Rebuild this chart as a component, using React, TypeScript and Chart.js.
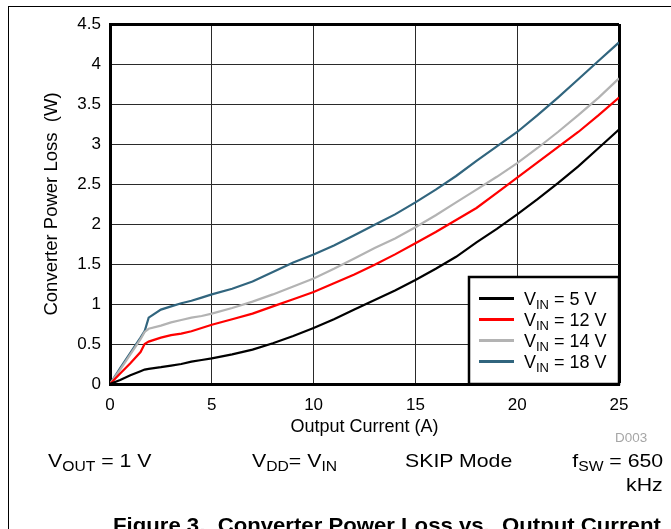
import React, { useEffect, useRef } from 'react';
import { Chart, registerables } from 'chart.js';

Chart.register(...registerables);

// ---------- data ----------
const currentA = [0, 0.5, 1, 1.5, 1.7, 1.9, 2.5, 3, 3.5, 4, 4.5, 5, 6, 7, 8, 9, 10, 11, 12, 13, 14, 15, 16, 17, 18, 19, 20, 21, 22, 23, 24, 25];
const lossVin5 = [0, 0.05, 0.11, 0.16, 0.18, 0.19, 0.21, 0.23, 0.25, 0.28, 0.3, 0.32, 0.37, 0.43, 0.51, 0.6, 0.7, 0.81, 0.93, 1.05, 1.17, 1.3, 1.44, 1.59, 1.77, 1.94, 2.12, 2.31, 2.51, 2.72, 2.95, 3.18];
const lossVin12 = [0, 0.13, 0.26, 0.4, 0.5, 0.53, 0.58, 0.61, 0.63, 0.66, 0.7, 0.74, 0.81, 0.88, 0.97, 1.06, 1.15, 1.26, 1.37, 1.49, 1.62, 1.76, 1.9, 2.05, 2.2, 2.39, 2.58, 2.77, 2.96, 3.15, 3.36, 3.58];
const lossVin14 = [0, 0.18, 0.37, 0.56, 0.65, 0.69, 0.73, 0.77, 0.8, 0.83, 0.85, 0.88, 0.95, 1.03, 1.12, 1.22, 1.32, 1.44, 1.57, 1.7, 1.82, 1.96, 2.11, 2.27, 2.43, 2.59, 2.76, 2.95, 3.15, 3.36, 3.58, 3.82];
const lossVin18 = [0, 0.2, 0.39, 0.58, 0.66, 0.83, 0.93, 0.97, 1.01, 1.04, 1.08, 1.12, 1.19, 1.28, 1.4, 1.52, 1.62, 1.73, 1.86, 1.99, 2.12, 2.27, 2.43, 2.6, 2.79, 2.97, 3.15, 3.36, 3.58, 3.81, 4.04, 4.27];
const vinLevels = [5, 12, 14, 18];
const seriesValues = [lossVin5, lossVin12, lossVin14, lossVin18];
const seriesColors = ['#000000', '#ff0000', '#b3b3b3', '#31657e'];
const xTickValues = [0, 5, 10, 15, 20, 25];
const yTickValues = [0, 0.5, 1, 1.5, 2, 2.5, 3, 3.5, 4, 4.5];

const FONT = '"Liberation Sans", Arial, Helvetica, sans-serif';

const legendPlugin = {
  id: 'vinLegend',
  afterDatasetsDraw(chart: any) {
    const { ctx, chartArea } = chart;
    const w = 150;
    const h = 107;
    const x0 = chartArea.right - w;
    const y0 = chartArea.bottom - h;
    ctx.save();
    ctx.fillStyle = '#ffffff';
    ctx.fillRect(x0, y0, w, h);
    ctx.strokeStyle = '#000000';
    ctx.lineWidth = 2.5;
    ctx.strokeRect(x0, y0, w, h);
    chart.data.datasets.forEach((ds: any, i: number) => {
      const base = y0 + 28 + i * 21;
      ctx.strokeStyle = ds.borderColor;
      ctx.lineWidth = 3;
      ctx.beginPath();
      ctx.moveTo(x0 + 10, base - 6.5);
      ctx.lineTo(x0 + 45, base - 6.5);
      ctx.stroke();
      ctx.fillStyle = '#000000';
      ctx.textBaseline = 'alphabetic';
      ctx.textAlign = 'left';
      let x = x0 + 55;
      ctx.font = `18px ${FONT}`;
      ctx.fillText('V', x, base);
      x += ctx.measureText('V').width;
      ctx.font = `13px ${FONT}`;
      ctx.fillText('IN', x, base + 4);
      x += ctx.measureText('IN').width;
      ctx.font = `18px ${FONT}`;
      ctx.fillText(` = ${vinLevels[i]} V`, x, base);
    });
    ctx.restore();
  },
};

function Txt(props: { x?: number; right?: number; baseline: number; size: number; bold?: boolean; color?: string; children: any }) {
  const { x, right, baseline, size, bold, color, children } = props;
  const top = baseline - 0.8465 * size;
  const style: any = {
    position: 'absolute',
    top,
    fontFamily: FONT,
    fontSize: size,
    lineHeight: `${size}px`,
    fontWeight: bold ? 'bold' : 'normal',
    color: color || '#000',
    whiteSpace: 'pre',
    transform: 'scaleX(1.12)',
    transformOrigin: right !== undefined ? 'right center' : 'left center',
  };
  if (right !== undefined) style.right = right;
  else style.left = x;
  return <div style={style}>{children}</div>;
}

const Sub = (p: { children: any }) => (
  <span style={{ fontSize: 14, position: 'relative', top: 4 }}>{p.children}</span>
);

export default function App() {
  const canvasRef = useRef<HTMLCanvasElement | null>(null);

  useEffect(() => {
    const canvas = canvasRef.current;
    if (!canvas) return;
    const datasets = seriesValues.map((vals, i) => ({
      label: `VIN = ${vinLevels[i]} V`,
      data: currentA.map((c, j) => ({ x: c, y: vals[j] })),
      borderColor: seriesColors[i],
      backgroundColor: seriesColors[i],
      borderWidth: 2.2,
      pointRadius: 0,
      tension: 0,
      fill: false,
    }));
    const gridColor = (ctx: any, edge: number) => (ctx.tick && ctx.tick.value === edge ? '#000000' : '#2a2a2a');
    const gridWidth = (ctx: any, edge: number) => (ctx.tick && ctx.tick.value === edge ? 3 : 1);
    const chart = new Chart(canvas, {
      type: 'line',
      data: { datasets },
      options: {
        animation: false,
        responsive: false,
        devicePixelRatio: 1,
        layout: { padding: { left: 41.2, right: 52, top: 24, bottom: 91.2 } },
        plugins: { legend: { display: false }, tooltip: { enabled: false } },
        scales: {
          x: {
            type: 'linear',
            min: 0,
            max: 25,
            afterBuildTicks: (s: any) => { s.ticks = xTickValues.map((v) => ({ value: v })); },
            afterFit: (s: any) => { s.height = 53.8; },
            ticks: { color: '#000', padding: 11, font: { family: FONT, size: 17 }, callback: (v: any) => String(v) },
            grid: {
              drawTicks: false,
              color: (c: any) => gridColor(c, 25),
              lineWidth: (c: any) => gridWidth(c, 25),
            },
            border: { display: true, color: '#000', width: 3 },
            title: { display: true, text: 'Output Current (A)', color: '#000', padding: 0, font: { family: FONT, size: 18 } },
          },
          y: {
            type: 'linear',
            min: 0,
            max: 4.5,
            afterBuildTicks: (s: any) => { s.ticks = yTickValues.map((v) => ({ value: v })); },
            afterFit: (s: any) => { s.width = 68.8; },
            ticks: { color: '#000', padding: 9, font: { family: FONT, size: 17 }, callback: (v: any) => String(v) },
            grid: {
              drawTicks: false,
              color: (c: any) => gridColor(c, 4.5),
              lineWidth: (c: any) => gridWidth(c, 4.5),
            },
            border: { display: true, color: '#000', width: 3 },
            title: { display: true, text: 'Converter Power Loss  (W)', color: '#000', padding: 0, font: { family: FONT, size: 18.5 } },
          },
        },
      },
      plugins: [legendPlugin],
    } as any);
    return () => chart.destroy();
  }, []);

  return (
    <div style={{ position: 'fixed', left: 0, top: 0, width: 671, height: 529, overflow: 'hidden', background: '#fff' }}>
      <canvas ref={canvasRef} width={671} height={529} style={{ position: 'absolute', left: 0, top: 0 }} />
      <div style={{ position: 'absolute', left: 8, top: 6, width: 663, height: 1, background: '#000' }} />
      <div style={{ position: 'absolute', left: 8, top: 6, width: 1, height: 523, background: '#000' }} />
      <Txt x={615} baseline={441.7} size={12} color="#a6a6a6">D003</Txt>
      <Txt x={48} baseline={466.7} size={19}>V<Sub>OUT</Sub> = 1 V</Txt>
      <Txt x={252} baseline={466.7} size={19}>V<Sub>DD</Sub>= V<Sub>IN</Sub></Txt>
      <Txt x={405} baseline={466.7} size={19}>SKIP Mode</Txt>
      <Txt right={8} baseline={466.7} size={19}>f<Sub>SW</Sub> = 650</Txt>
      <Txt right={8} baseline={490.7} size={19}>kHz</Txt>
      <Txt x={113} baseline={533} size={19.8} bold>{'Figure 3.  Converter Power Loss vs.  Output Current'}</Txt>
    </div>
  );
}
